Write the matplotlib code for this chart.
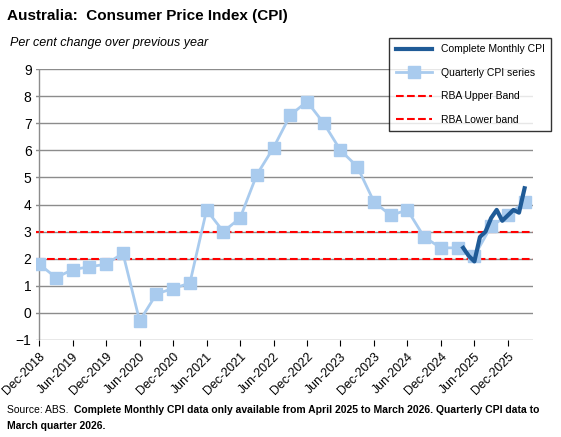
import matplotlib
matplotlib.use("Agg")
import matplotlib.pyplot as plt
import numpy as np

plt.rcParams['font.family'] = ['Liberation Sans', 'DejaVu Sans']

quarterly = [1.8,1.3,1.6,1.7,1.8,2.2,-0.3,0.7,0.9,1.1,3.8,3.0,3.5,5.1,6.1,7.3,7.8,7.0,6.0,5.4,4.1,3.6,3.8,2.8,2.4,2.4,2.1,3.2,3.6,4.1]
monthly = [2.4,2.1,1.9,2.8,3.0,3.5,3.8,3.4,3.6,3.8,3.7,4.6]
tick_labels = ['Dec-2018','Jun-2019','Dec-2019','Jun-2020','Dec-2020','Jun-2021','Dec-2021',
               'Jun-2022','Dec-2022','Jun-2023','Dec-2023','Jun-2024','Dec-2024','Jun-2025','Dec-2025']
upper, lower = 3, 2

qx = np.arange(len(quarterly))*3
mx = np.arange(len(monthly)) + 76  # Apr-2025

fig = plt.figure(figsize=(5.61,4.37), dpi=100)
ax = fig.add_axes([0.065, 0.222, 0.885, 0.62])
ax.plot(qx, quarterly, color='#a9cbee', lw=2, marker='s', ms=8, label='Quarterly CPI series', zorder=3)
ax.plot(mx, monthly, color='#1f5b97', lw=3, label='Complete Monthly CPI', zorder=4)
ax.axhline(upper, color='red', ls='--', lw=1.5, label='RBA Upper Band', zorder=2)
ax.axhline(lower, color='red', ls='--', lw=1.5, label='RBA Lower band', zorder=2)
ax.set_ylim(-1, 9)
ax.set_yticks(range(-1,10))
ax.set_xlim(-0.5, 88.5)
ax.set_xticks(np.arange(len(tick_labels))*6)
ax.set_xticklabels(tick_labels, rotation=45, ha='right', rotation_mode='anchor', fontsize=9)
ax.tick_params(axis='y', labelsize=10, length=0)
ax.tick_params(axis='x', length=4, direction='out')
ax.grid(axis='y', color='#8c8c8c', lw=1)
for s in ['top','right','left','bottom']:
    ax.spines[s].set_visible(False)
ax.axvline(0, color='#8c8c8c', lw=1)
h, l = ax.get_legend_handles_labels()
order = [1,0,2,3]
leg = fig.legend([h[i] for i in order], [l[i] for i in order], loc='upper left',
                 bbox_to_anchor=(0.685, 0.925), fontsize=7.5, frameon=True, fancybox=False,
                 edgecolor='black', handlelength=3.5, labelspacing=1.3, borderpad=0.6)
leg.get_frame().set_linewidth(1)
fig.text(0.012, 0.955, 'Australia:  Consumer Price Index (CPI)', fontsize=11, fontweight='bold')
fig.text(0.018, 0.895, 'Per cent change over previous year', fontsize=9, style='italic')
t1 = fig.text(0.012, 0.055, 'Source: ABS.  ', fontsize=7.5)
fig.canvas.draw()
bb = t1.get_window_extent().transformed(fig.transFigure.inverted())
fig.text(bb.x1, 0.055, 'Complete Monthly CPI data only available from April 2025 to March 2026. Quarterly CPI data to',
         fontsize=7.5, fontweight='bold')
fig.text(0.012, 0.018, 'March quarter 2026.', fontsize=7.5, fontweight='bold')
fig.savefig('out.png', dpi=100)
